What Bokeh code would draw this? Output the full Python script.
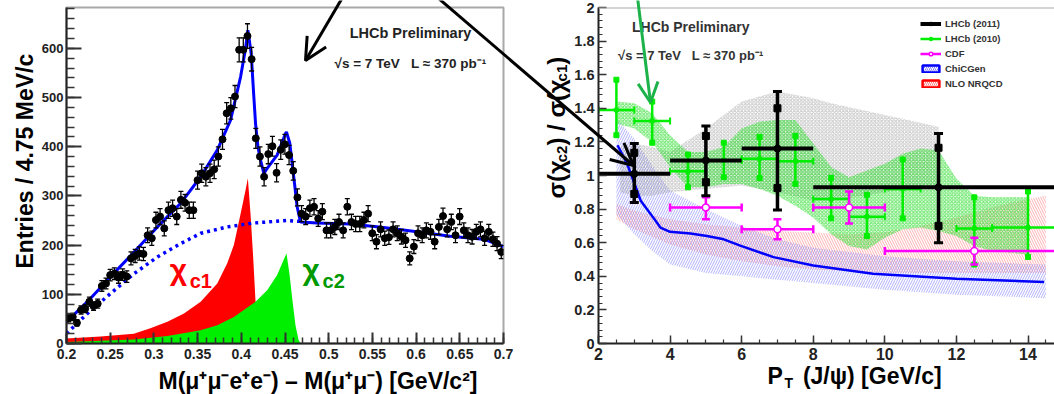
import math
from bokeh.plotting import figure
from bokeh.models import Range1d, FixedTicker, Label, Arrow, OpenHead, Legend, LegendItem, Span, GridBox
from bokeh.embed import file_html
from bokeh.resources import INLINE

# ---------------- left panel data ----------------
bin_width = 0.00476
mass_counts = [51, 54, 42, 68, 71, 85, 76, 81, 117, 122,
               139, 142, 134, 140, 136, 173, 178, 183, 182, 220,
               214, 251, 258, 234, 271, 275, 258, 292, 286, 271,
               271, 332, 346, 339, 346, 354, 380, 415, 468, 478,
               502, 597, 597, 625, 578, 417, 380, 339, 385, 401,
               347, 394, 405, 383, 351, 297, 264, 258, 275, 278,
               254, 268, 230, 230, 237, 247, 230, 278, 247, 243,
               243, 251, 264, 224, 207, 232, 214, 216, 232, 224,
               217, 210, 173, 197, 224, 220, 230, 227, 207, 237,
               259, 232, 247, 220, 258, 230, 220, 217, 227, 232,
               214, 227, 212, 203, 186]
fit_x = [0.200, 0.224, 0.2506, 0.2773, 0.304, 0.3306, 0.3535, 0.3725, 0.3877, 0.3992, 0.4049, 0.4075,
         0.4113, 0.4144, 0.4163, 0.419, 0.422, 0.4258, 0.4296, 0.441, 0.4506, 0.4517, 0.4555, 0.4586,
         0.4609, 0.4639, 0.4677, 0.4868, 0.5248, 0.5629, 0.601, 0.639, 0.6772, 0.700]
fit_y = [44, 85, 136, 186, 237, 285, 339, 393, 454, 542, 600, 637,
         590, 500, 447, 400, 373, 346, 356, 383, 427, 430, 407, 360,
         325, 278, 247, 245, 243, 236, 227, 218, 212, 197]
bkg_x = [0.2, 0.224, 0.2506, 0.2773, 0.304, 0.3306, 0.3535, 0.384, 0.4144, 0.4525, 0.4696]
bkg_y = [20, 61, 102, 142, 176, 203, 224, 237, 245, 250, 248]
chic1_x = [0.2, 0.239, 0.277, 0.296, 0.3154, 0.3344, 0.3535, 0.3725, 0.3839, 0.3915, 0.3992, 0.4049,
           0.4075, 0.4106, 0.4136, 0.4163, 0.4182, 0.4201]
chic1_y = [10, 14, 20, 31, 44, 61, 85, 122, 163, 200, 264, 312, 336, 262, 175, 85, 22, 0]
chic2_x = [0.2, 0.277, 0.3154, 0.3535, 0.3725, 0.3915, 0.4163, 0.4296, 0.441, 0.4468, 0.4517, 0.4551,
           0.4585, 0.4620, 0.4655, 0.4680]
chic2_y = [3, 8, 15, 27, 37, 54, 85, 108, 139, 163, 183, 142, 88, 37, 7, 0]
left_xticks = [0.2, 0.25, 0.3, 0.35, 0.4, 0.45, 0.5, 0.55, 0.6, 0.65, 0.7]
left_xtick_labels = ["0.2", "0.25", "0.3", "0.35", "0.4", "0.45", "0.5", "0.55", "0.6", "0.65", "0.7"]
left_yticks = [0, 100, 200, 300, 400, 500, 600]
left_ytick_labels = ["0", "100", "200", "300", "400", "500", "600"]

# ---------------- right panel data ----------------
lhcb11_x = [3.0, 5.0, 7.0, 11.5]
lhcb11_xlo = [2.0, 4.0, 6.0, 8.0]
lhcb11_xhi = [4.0, 6.0, 8.0, 15.0]
lhcb11_y = [1.01, 1.09, 1.16, 0.93]
lhcb11_stat_lo = [0.89, 0.96, 0.925, 0.70]
lhcb11_stat_hi = [1.135, 1.235, 1.40, 1.165]
lhcb11_tot_lo = [0.84, 0.88, 0.795, 0.60]
lhcb11_tot_hi = [1.19, 1.295, 1.50, 1.25]

lhcb10_x = [2.5, 3.5, 4.5, 5.5, 6.5, 7.5, 8.5, 9.5, 10.5, 12.5, 14.0]
lhcb10_xlo = [2.0, 3.0, 4.0, 5.0, 6.0, 7.0, 8.0, 9.0, 10.0, 12.0, 13.0]
lhcb10_xhi = [3.0, 4.0, 5.0, 6.0, 7.0, 8.0, 9.0, 10.0, 11.0, 13.0, 15.0]
lhcb10_y = [1.39, 1.325, 1.025, 1.09, 1.10, 1.085, 0.86, 0.755, 0.92, 0.685, 0.69]
lhcb10_lo = [1.24, 1.195, 0.93, 0.99, 0.985, 0.95, 0.745, 0.64, 0.745, 0.47, 0.515]
lhcb10_hi = [1.57, 1.44, 1.125, 1.195, 1.23, 1.235, 0.985, 0.885, 1.095, 0.87, 0.905]

cdf_x = [5.0, 7.0, 9.0, 12.5]
cdf_xlo = [4.0, 6.0, 8.0, 10.0]
cdf_xhi = [6.0, 8.0, 10.0, 15.0]
cdf_y = [0.81, 0.68, 0.81, 0.55]
cdf_lo = [0.74, 0.62, 0.715, 0.47]
cdf_hi = [0.87, 0.74, 0.905, 0.63]

chicgen_x = [2.53, 2.8, 3.18, 3.46, 3.73, 4.0, 4.57, 5.03, 5.5, 5.96, 6.89, 8.0, 9.67, 12.0, 14.45]
chicgen_y = [1.18, 1.07, 0.85, 0.77, 0.69, 0.665, 0.655, 0.64, 0.62, 0.583, 0.514, 0.464, 0.415, 0.385, 0.366]
chicgen_band_x = [2.5, 3.0, 3.5, 4.0, 5.0, 6.0, 7.0, 8.0, 10.0, 12.0, 14.5]
chicgen_band_hi = [1.34, 1.22, 1.06, 0.91, 0.80, 0.70, 0.62, 0.57, 0.52, 0.49, 0.47]
chicgen_band_lo = [0.77, 0.65, 0.55, 0.47, 0.42, 0.40, 0.38, 0.36, 0.32, 0.29, 0.27]

nrqcd_x = [2.5, 3.0, 4.0, 5.0, 6.0, 7.0, 8.0, 9.0, 10.0, 11.0, 12.0, 13.0, 14.0, 14.5]
nrqcd_hi = [0.83, 0.79, 0.74, 0.71, 0.69, 0.67, 0.66, 0.65, 0.66, 0.70, 0.75, 0.81, 0.86, 0.88]
nrqcd_lo = [0.74, 0.68, 0.59, 0.53, 0.49, 0.46, 0.44, 0.43, 0.42, 0.42, 0.42, 0.42, 0.42, 0.42]

band11_x = [2.6, 3.0, 3.5, 4.0, 5.0, 6.0, 7.0, 8.0, 8.5, 10.0, 11.5]
band11_hi = [1.17, 1.19, 1.17, 1.14, 1.28, 1.44, 1.50, 1.46, 1.43, 1.36, 1.29]
band11_lo = [0.90, 0.88, 0.88, 0.90, 0.92, 0.94, 0.90, 0.85, 0.85, 0.90, 0.95]

band10_x = [2.5, 3.0, 3.5, 4.0, 4.5, 5.0, 5.5, 6.0, 6.5, 7.0, 7.5, 8.0, 8.5, 9.0, 9.5, 10.0,
            10.5, 11.0, 11.5, 12.0, 12.5, 13.0, 14.0]
band10_hi = [1.44, 1.43, 1.37, 1.24, 1.14, 1.14, 1.17, 1.28, 1.32, 1.33, 1.33, 1.19, 1.05, 0.99,
             1.03, 1.07, 1.13, 1.16, 1.15, 0.98, 0.88, 0.87, 0.87]
band10_lo = [1.31, 1.28, 1.20, 1.05, 0.93, 0.93, 0.95, 0.95, 0.92, 0.88, 0.82, 0.75, 0.65, 0.58,
             0.56, 0.63, 0.68, 0.69, 0.67, 0.64, 0.58, 0.55, 0.53]

right_xticks = [2, 4, 6, 8, 10, 12, 14]
right_xtick_labels = ["2", "4", "6", "8", "10", "12", "14"]
right_yticks = [0, 0.2, 0.4, 0.6, 0.8, 1.0, 1.2, 1.4, 1.6, 1.8, 2.0]
right_ytick_labels = ["0", "0.2", "0.4", "0.6", "0.8", "1", "1.2", "1.4", "1.6", "1.8", "2"]

FONT = "Liberation Sans"
BLUE = "#0000ff"
NB3 = "\u00a0\u00a0\u00a0"

# =============== left figure ===============
p1 = figure(width=540, height=394, x_range=Range1d(0.2, 0.7), y_range=Range1d(0, 683),
            output_backend="svg", toolbar_location=None,
            min_border_left=66, min_border_right=37, min_border_top=7, min_border_bottom=51)
p1.grid.visible = False
p1.outline_line_color = "#a8a8a8"
p1.outline_line_width = 2

xa = p1.xaxis[0]
xa.ticker = FixedTicker(ticks=left_xticks, minor_ticks=[round(0.2 + 0.01 * i, 3) for i in range(51)])
xa.major_label_overrides = dict(zip(left_xticks, left_xtick_labels))
ya = p1.yaxis[0]
ya.ticker = FixedTicker(ticks=left_yticks, minor_ticks=list(range(0, 684, 20)))
ya.major_label_overrides = dict(zip(left_yticks, left_ytick_labels))
for ax in (xa, ya):
    ax.major_tick_out = 0
    ax.minor_tick_out = 0
    ax.axis_line_width = 2
    ax.axis_line_color = "#222222"
    ax.major_tick_line_width = 2
    ax.minor_tick_line_width = 1.5
    ax.major_tick_line_color = "#333333"
    ax.minor_tick_line_color = "#333333"
    ax.major_label_text_font = FONT
    ax.major_label_text_font_style = "bold"
    ax.major_label_text_color = "#222222"
xa.major_label_text_font_size = "14px"
ya.major_label_text_font_size = "13px"
xa.major_tick_in = 11
xa.minor_tick_in = 6
ya.major_tick_in = 15
ya.minor_tick_in = 8
xa.major_label_standoff = 5
ya.major_label_standoff = 3

p1.varea(x=chic1_x, y1=0, y2=chic1_y, fill_color="#ff0000")
p1.varea(x=chic2_x, y1=0, y2=chic2_y, fill_color="#00ee00")
p1.line(bkg_x, bkg_y, line_color=BLUE, line_width=3.5, line_dash="3 4")
p1.line(fit_x, fit_y, line_color=BLUE, line_width=3)

mass_x = [0.2 + bin_width * (i + 0.5) for i in range(len(mass_counts))]
err = [math.sqrt(c) for c in mass_counts]
lo = [c - e for c, e in zip(mass_counts, err)]
hi = [c + e for c, e in zip(mass_counts, err)]
p1.segment(x0=mass_x, y0=lo, x1=mass_x, y1=hi, line_color="black", line_width=1.3)
p1.scatter(mass_x, lo, marker="dash", size=5, line_color="black", line_width=1.3)
p1.scatter(mass_x, hi, marker="dash", size=5, line_color="black", line_width=1.3)
p1.scatter(mass_x, mass_counts, marker="circle", size=7, fill_color="black", line_color="black")

p1.add_layout(Label(x=0.5936, y=631, text="LHCb Preliminary", text_align="center", text_baseline="middle",
                    text_font=FONT, text_font_style="bold", text_font_size="14.5px", text_color="#222222"))
p1.add_layout(Label(x=0.5936, y=570, text="√s = 7 TeV" + NB3 + "L ≈ 370 pb⁻¹", text_align="center",
                    text_baseline="middle", text_font=FONT, text_font_style="bold",
                    text_font_size="13.5px", text_color="#222222"))
p1.add_layout(Label(x=0.318, y=150, text="χ", text_baseline="middle", text_font=FONT,
                    text_font_style="bold", text_font_size="30px", text_color="#ff0000"))
p1.add_layout(Label(x=0.341, y=128, text="c1", text_baseline="middle", text_font=FONT,
                    text_font_style="bold", text_font_size="20px", text_color="#ff0000"))
p1.add_layout(Label(x=0.470, y=150, text="χ", text_baseline="middle", text_font=FONT,
                    text_font_style="bold", text_font_size="30px", text_color="#009900"))
p1.add_layout(Label(x=0.493, y=128, text="c2", text_baseline="middle", text_font=FONT,
                    text_font_style="bold", text_font_size="20px", text_color="#009900"))

# =============== right figure ===============
p2 = figure(width=514, height=394, x_range=Range1d(2, 14.74), y_range=Range1d(0, 2),
            output_backend="svg", toolbar_location=None,
            min_border_left=58, min_border_right=0, min_border_top=5, min_border_bottom=51)
p2.grid.visible = False
p2.outline_line_color = None
p2.add_layout(Span(location=2, dimension="width", line_color="#a8a8a8", line_width=2))

xb = p2.xaxis[0]
xb.ticker = FixedTicker(ticks=right_xticks, minor_ticks=[2 + 0.5 * i for i in range(26)])
xb.major_label_overrides = dict(zip(right_xticks, right_xtick_labels))
yb = p2.yaxis[0]
yb.ticker = FixedTicker(ticks=right_yticks, minor_ticks=[round(0.04 * i, 2) for i in range(51)])
yb.major_label_overrides = dict(zip(right_yticks, right_ytick_labels))
for ax in (xb, yb):
    ax.major_tick_out = 0
    ax.minor_tick_out = 0
    ax.major_tick_in = 8
    ax.minor_tick_in = 4
    ax.axis_line_width = 2
    ax.axis_line_color = "#222222"
    ax.major_tick_line_width = 1.5
    ax.minor_tick_line_width = 1.2
    ax.major_tick_line_color = "#333333"
    ax.minor_tick_line_color = "#333333"
    ax.major_label_text_font = FONT
    ax.major_label_text_font_style = "bold"
    ax.major_label_text_color = "#222222"
    ax.major_label_standoff = 4
xb.major_label_text_font_size = "16px"
yb.major_label_text_font_size = "14.5px"

p2.varea(x=nrqcd_x, y1=nrqcd_lo, y2=nrqcd_hi, fill_alpha=0, hatch_pattern="\\",
         hatch_color="#ff7070", hatch_alpha=0.55, hatch_scale=5, hatch_weight=1)
p2.varea(x=chicgen_band_x, y1=chicgen_band_lo, y2=chicgen_band_hi, fill_alpha=0,
         hatch_pattern="/", hatch_color="#7070ff", hatch_alpha=0.55, hatch_scale=5, hatch_weight=1)
p2.varea(x=band11_x, y1=band11_lo, y2=band11_hi, fill_alpha=0, hatch_pattern="x",
         hatch_color="#808080", hatch_alpha=0.45, hatch_scale=3.5, hatch_weight=1)
p2.varea(x=band10_x, y1=band10_lo, y2=band10_hi, fill_color="#00dd00", fill_alpha=0.1,
         hatch_pattern="x", hatch_color="#33dd33", hatch_alpha=0.7, hatch_scale=3.5, hatch_weight=1)
p2.line(chicgen_x, chicgen_y, line_color=BLUE, line_width=2.5)

# LHCb 2010 (green)
G = "#00ee00"
r_g_h = p2.segment(x0=lhcb10_xlo, y0=lhcb10_y, x1=lhcb10_xhi, y1=lhcb10_y, line_color=G, line_width=2.5)
p2.segment(x0=lhcb10_x, y0=lhcb10_lo, x1=lhcb10_x, y1=lhcb10_hi, line_color=G, line_width=2.5)
p2.scatter(lhcb10_x, lhcb10_lo, marker="square", size=5, color=G)
p2.scatter(lhcb10_x, lhcb10_hi, marker="square", size=5, color=G)
p2.scatter(lhcb10_xlo, lhcb10_y, marker="dash", angle=math.pi / 2, size=7, line_color=G, line_width=2)
p2.scatter(lhcb10_xhi, lhcb10_y, marker="dash", angle=math.pi / 2, size=7, line_color=G, line_width=2)
r_g_p = p2.scatter(lhcb10_x, lhcb10_y, marker="circle", size=5, color=G)

# CDF (magenta)
M = "#ff00ff"
r_m_h = p2.segment(x0=cdf_xlo, y0=cdf_y, x1=cdf_xhi, y1=cdf_y, line_color=M, line_width=2.5)
p2.segment(x0=cdf_x, y0=cdf_lo, x1=cdf_x, y1=cdf_hi, line_color=M, line_width=2.5)
p2.scatter(cdf_x, cdf_lo, marker="dash", size=8, line_color=M, line_width=2.5)
p2.scatter(cdf_x, cdf_hi, marker="dash", size=8, line_color=M, line_width=2.5)
p2.scatter(cdf_xlo, cdf_y, marker="dash", angle=math.pi / 2, size=8, line_color=M, line_width=2.5)
p2.scatter(cdf_xhi, cdf_y, marker="dash", angle=math.pi / 2, size=8, line_color=M, line_width=2.5)
r_m_p = p2.scatter(cdf_x, cdf_y, marker="circle", size=7, fill_color="white", line_color=M, line_width=1.5)

# LHCb 2011 (black)
K = "black"
r_k_h = p2.segment(x0=lhcb11_xlo, y0=lhcb11_y, x1=lhcb11_xhi, y1=lhcb11_y, line_color=K, line_width=4)
p2.segment(x0=lhcb11_x, y0=lhcb11_tot_lo, x1=lhcb11_x, y1=lhcb11_tot_hi, line_color=K, line_width=3.5)
p2.scatter(lhcb11_x, lhcb11_tot_lo, marker="dash", size=9, line_color=K, line_width=3)
p2.scatter(lhcb11_x, lhcb11_tot_hi, marker="dash", size=9, line_color=K, line_width=3)
p2.scatter(lhcb11_x, lhcb11_stat_lo, marker="square", size=7, color=K)
p2.scatter(lhcb11_x, lhcb11_stat_hi, marker="square", size=7, color=K)
r_k_p = p2.scatter(lhcb11_x, lhcb11_y, marker="circle", size=7, color=K)

# legend proxies for the hatched bands (kept below the visible y range)
q_chic = p2.quad(left=[chicgen_band_x[0]], right=[chicgen_band_x[-1]], bottom=[-1.0], top=[-0.5],
                 fill_color="white", line_color=BLUE, line_width=2.5,
                 hatch_pattern="/", hatch_color="#8080ff", hatch_scale=4, hatch_weight=1)
q_nrqcd = p2.quad(left=[nrqcd_x[0]], right=[nrqcd_x[-1]], bottom=[-1.0], top=[-0.5],
                  fill_color="white", line_color="#ff0000", line_width=2.5,
                  hatch_pattern="\\", hatch_color="#ff8080", hatch_scale=4, hatch_weight=1)

legend = Legend(items=[
    LegendItem(label="LHCb (2011)", renderers=[r_k_h, r_k_p]),
    LegendItem(label="LHCb (2010)", renderers=[r_g_h, r_g_p]),
    LegendItem(label="CDF", renderers=[r_m_h, r_m_p]),
    LegendItem(label="ChiCGen", renderers=[q_chic]),
    LegendItem(label="NLO NRQCD", renderers=[q_nrqcd]),
], location=(322, 254), background_fill_alpha=0, border_line_color=None,
    label_text_font=FONT, label_text_font_style="bold", label_text_font_size="9.5px",
    label_text_color="#333333", glyph_width=21, glyph_height=9, label_height=9,
    spacing=4, padding=2, label_standoff=4, margin=0)
p2.add_layout(legend)

p2.add_layout(Label(x=4.578, y=1.881, text="LHCb Preliminary", text_align="center", text_baseline="middle",
                    text_font=FONT, text_font_style="bold", text_font_size="14px", text_color="#333333"))
p2.add_layout(Label(x=4.578, y=1.715, text="√s = 7 TeV" + NB3 + "L ≈ 370 pb⁻¹", text_align="center",
                    text_baseline="middle", text_font=FONT, text_font_style="bold",
                    text_font_size="13px", text_color="#333333"))

# =============== transparent overlay (page pixels) for axis titles and arrows spanning panels ===============
ov = figure(width=1054, height=394, x_range=Range1d(0, 1054), y_range=Range1d(394, 0),
            output_backend="svg", toolbar_location=None, x_axis_type=None, y_axis_type=None,
            min_border=0)
ov.frame_align = False
ov.grid.visible = False
ov.outline_line_color = None
ov.background_fill_alpha = 0
ov.border_fill_alpha = 0

TXT = dict(text_font=FONT, text_font_style="bold", text_color="black", text_baseline="middle")
# left panel axis titles
ov.add_layout(Label(x=158, y=380, text="M(μ⁺μ⁻e⁺e⁻) – M(μ⁺μ⁻) [GeV/c²]", text_font_size="23px", **TXT))
ov.add_layout(Label(x=24, y=268, text="Entries / 4.75 MeV/c", angle=math.pi / 2, text_font_size="23px", **TXT))

# right panel x title: P_T (J/psi) [GeV/c]
ov.add_layout(Label(x=767, y=375, text="P", text_font_size="23px", **TXT))
ov.add_layout(Label(x=784, y=382, text="T", text_font_size="14px", **TXT))
ov.add_layout(Label(x=796, y=375, text="\u00a0(J/ψ) [GeV/c]", text_font_size="23px", **TXT))

# right panel y title: sigma(chi_c2) / sigma(chi_c1)
ylab_parts = [("σ(χ", 556, 198, "24px"), ("c2", 561, 161.8, "15px"),
              (") / σ(χ", 556, 145.1, "24px"), ("c1", 561, 80.9, "15px"),
              (")", 556, 64.2, "24px")]
for txt, lx, ly, fs in ylab_parts:
    ov.add_layout(Label(x=lx, y=ly, text=txt, angle=math.pi / 2, text_align="left",
                        text_font_size=fs, **TXT))

ov.add_layout(Arrow(end=OpenHead(size=22, line_width=3, line_color="black"),
                    x_start=342, y_start=-3, x_end=305, y_end=60, line_width=3, line_color="black"))
ov.add_layout(Arrow(end=OpenHead(size=22, line_width=3, line_color="black"),
                    x_start=437, y_start=-3, x_end=633, y_end=165, line_width=3, line_color="black"))
ov.add_layout(Arrow(end=OpenHead(size=20, line_width=3, line_color="#1db34a"),
                    x_start=637, y_start=-3, x_end=650, y_end=102, line_width=3, line_color="#1db34a"))

layout = GridBox(children=[(p1, 0, 0), (p2, 0, 1), (ov, 0, 0, 1, 2)])
open("out.html", "w").write(file_html(layout, INLINE))
